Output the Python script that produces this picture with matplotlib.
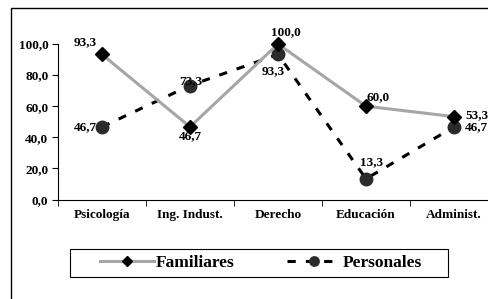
import numpy as np
import matplotlib.pyplot as plt
from matplotlib.patches import Rectangle

categorias = ["Psicología", "Ing. Indust.", "Derecho", "Educación", "Administ."]
familiares = [93.3, 46.7, 100.0, 60.0, 53.3]
personales = [46.7, 73.3, 93.3, 13.3, 46.7]
yticks = [0, 20, 40, 60, 80, 100]

plt.rcParams['font.family'] = ['Liberation Serif', 'DejaVu Serif']
plt.rcParams['font.weight'] = 'bold'

fig = plt.figure(figsize=(4.88, 2.99), dpi=100)
ax = fig.add_axes([58/488, 1-199.5/299, 440/488, 155.5/299])
x = np.arange(len(categorias))

ax.plot(x, familiares, color="#a6a6a6", linewidth=2.2, marker="D", markersize=7,
        markerfacecolor="black", markeredgecolor="black", label="Familiares", clip_on=False, zorder=3)
ax.plot(x, personales, color="black", linewidth=2.2, linestyle=(0, (2.7, 3.3)), marker="o", markersize=9,
        markerfacecolor="#2b2b2b", markeredgecolor="#2b2b2b", label="Personales", clip_on=False, zorder=2)

ax.set_xlim(-0.5, 4.5)
ax.set_ylim(0, 100)
ax.set_yticks(yticks)
ax.set_yticklabels([f"{v:.1f}".replace(".", ",") for v in yticks], fontsize=9.5, fontweight="bold")
ax.set_xticks(x)
ax.set_xticklabels(categorias, fontsize=9.5, fontweight="bold")
ax.set_xticks(np.arange(-0.5, 4.6, 1), minor=True)
ax.tick_params(axis="x", which="major", length=0, pad=7)
ax.tick_params(axis="x", which="minor", length=4, direction="out")
ax.tick_params(axis="y", length=4, direction="out", pad=3)
for s in ["top", "right"]:
    ax.spines[s].set_visible(False)

def fmt(v):
    return f"{v:.1f}".replace(".", ",")

# offsets in points for the data labels
off_f = [(-12, 9), (0, -7), (6, 8.5), (8.5, 6.5), (8, 1)]
ha_f = ["center", "center", "center", "center", "left"]
off_p = [(-3.6, 0), (0.7, 3), (-3.6, -12), (4.3, 12), (8, 0)]
ha_p = ["right", "center", "center", "center", "left"]
for i in range(len(categorias)):
    ax.annotate(fmt(familiares[i]), (x[i], familiares[i]), xytext=off_f[i], textcoords="offset points",
                ha=ha_f[i], va="center", fontsize=9.5, fontweight="bold", annotation_clip=False, zorder=5)
    ax.annotate(fmt(personales[i]), (x[i], personales[i]), xytext=off_p[i], textcoords="offset points",
                ha=ha_p[i], va="center", fontsize=9.5, fontweight="bold", annotation_clip=False, zorder=5)

# outer chart frame (cut off at right/bottom)
fig.patches.append(Rectangle((11/488, -0.1), 1.2, 1.1 - 8/299, transform=fig.transFigure,
                             fill=False, edgecolor="black", linewidth=1))
# legend box
fig.patches.append(Rectangle((70/488, 1-277/299), 378/488, 28/299, transform=fig.transFigure,
                             fill=True, facecolor="white", edgecolor="black", linewidth=0.8, zorder=1))

leg = fig.legend(loc="center", bbox_to_anchor=(261/488, 1-263/299), ncol=2, frameon=False,
                 handlelength=3.1, handletextpad=0.1, columnspacing=3, markerscale=0.75,
                 prop={"size": 12.5, "weight": "bold"})
leg.set_zorder(5)

fig.savefig("out.png", dpi=100)
